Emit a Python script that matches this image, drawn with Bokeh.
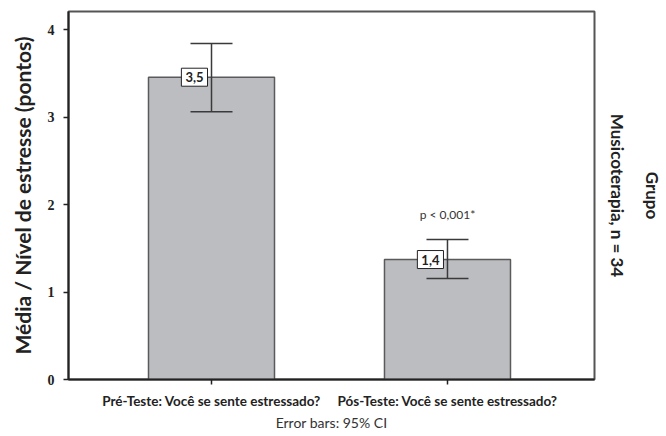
from bokeh.plotting import figure
from bokeh.models import (Range1d, FixedTicker, ColumnDataSource, Whisker, TeeHead, Label,
                          Title)
from bokeh.embed import file_html
from bokeh.resources import INLINE

categories = ["Pré-Teste: Você se sente estressado?", "Pós-Teste: Você se sente estressado?"]
positions = [1, 2]
means = [3.455, 1.371]
ci_upper = [3.84, 1.60]
ci_lower = [3.06, 1.154]
value_labels = ["3,5", "1,4"]
y_ticks = [0, 1, 2, 3, 4]

FONT = "Lato"
DARK = "#222222"

p = figure(width=666, height=436, output_backend="svg", toolbar_location=None,
           x_range=Range1d(0.394, 2.623), y_range=Range1d(0, 4.206),
           min_border_left=68, min_border_right=72, min_border_top=11, min_border_bottom=57)
p.background_fill_color = "white"
p.border_fill_color = "white"
p.grid.visible = False
p.outline_line_color = "#555555"
p.outline_line_width = 2

src = ColumnDataSource(dict(x=positions, top=means, upper=ci_upper, lower=ci_lower,
                            lab=value_labels))

p.vbar(x="x", top="top", width=0.534, source=src, fill_color="#BCBDC1",
       line_color="#5a5a5a", line_width=1.5)

w = Whisker(source=src, base="x", upper="upper", lower="lower", level="overlay",
            line_color="#3a3a3a", line_width=1.5,
            upper_head=TeeHead(size=42, line_color="#3a3a3a", line_width=1.5),
            lower_head=TeeHead(size=42, line_color="#3a3a3a", line_width=1.5))
p.add_layout(w)

for xv, yv, lab in zip(positions, means, value_labels):
    p.add_layout(Label(x=xv, y=yv, text=lab, text_align="right", level="overlay",
                       text_baseline="middle", x_offset=-4, text_font=FONT,
                       text_font_style="bold", text_font_size="13px", text_color=DARK,
                       background_fill_color="white", border_line_color=DARK,
                       border_line_width=1, padding=4))

p.add_layout(Label(x=positions[1], y=1.886, text="p < 0,001*", text_align="center",
                   text_baseline="middle", text_font=FONT, text_font_size="12px",
                   text_color="#333333"))

# y axis
p.yaxis.ticker = FixedTicker(ticks=y_ticks)
p.yaxis.minor_tick_line_color = None
p.yaxis.major_tick_out = 5
p.yaxis.major_tick_in = 0
p.yaxis.major_label_standoff = 9
p.yaxis.major_label_text_font = "Liberation Serif"
p.yaxis.major_label_text_font_style = "bold"
p.yaxis.major_label_text_font_size = "14px"
p.yaxis.major_label_text_color = DARK
p.yaxis.axis_line_width = 2
p.yaxis.axis_line_color = DARK
p.yaxis.major_tick_line_color = DARK
p.yaxis.major_tick_line_width = 1.5
p.yaxis.axis_label = "Média / Nível de estresse (pontos)"
p.yaxis.axis_label_text_font = FONT
p.yaxis.axis_label_text_font_style = "bold"
p.yaxis.axis_label_text_font_size = "21px"
p.yaxis.axis_label_text_color = DARK
p.yaxis.axis_label_standoff = 10

# x axis
p.xaxis.ticker = FixedTicker(ticks=positions)
p.xaxis.major_label_overrides = {pos: cat for pos, cat in zip(positions, categories)}
p.xaxis.minor_tick_line_color = None
p.xaxis.major_tick_out = 5
p.xaxis.major_tick_in = 0
p.xaxis.major_label_standoff = 8
p.xaxis.major_label_text_font = FONT
p.xaxis.major_label_text_font_style = "bold"
p.xaxis.major_label_text_font_size = "13.5px"
p.xaxis.major_label_text_color = DARK
p.xaxis.axis_line_width = 2
p.xaxis.axis_line_color = DARK
p.xaxis.major_tick_line_color = DARK
p.xaxis.major_tick_line_width = 1.5
p.xaxis.axis_label = "Error bars: 95% CI"
p.xaxis.axis_label_text_font = FONT
p.xaxis.axis_label_text_font_style = "normal"
p.xaxis.axis_label_text_font_size = "14px"
p.xaxis.axis_label_text_color = "#333333"
p.xaxis.axis_label_standoff = 2

# right-side group label (two lines, reading top to bottom)
p.add_layout(Title(text="Musicoterapia, n = 34", align="center", text_font=FONT,
                   text_font_style="bold", text_font_size="17px", text_color=DARK,
                   standoff=24), "right")
p.add_layout(Title(text="Grupo", align="center", text_font=FONT,
                   text_font_style="bold", text_font_size="17px", text_color=DARK,
                   standoff=0), "right")

open("out.html", "w").write(file_html(p, INLINE))
